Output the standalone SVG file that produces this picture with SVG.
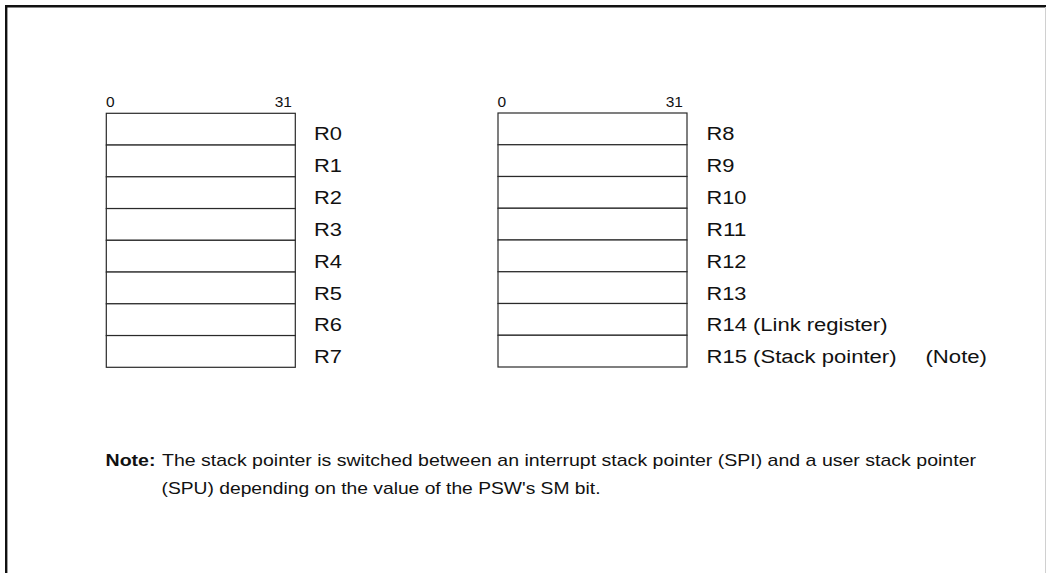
<svg xmlns="http://www.w3.org/2000/svg" width="1046" height="573" viewBox="0 0 1046 573">
<style>
.reg{fill:#fff;stroke:#2a2a2a;stroke-width:1.2}
.lbl{font-family:"Liberation Sans",Arial,sans-serif;font-size:18px;fill:#111}
.bit{font-family:"Liberation Sans",Arial,sans-serif;font-size:15.5px;fill:#111}
.note{font-family:"Liberation Sans",Arial,sans-serif;font-size:17px;fill:#111}
</style>
<rect x="0" y="0" width="1046" height="573" fill="#fff"/>
<path d="M6.2,573 V6.2 H1046" fill="none" stroke="#111" stroke-width="2.4"/>
<line x1="1045.5" y1="7" x2="1045.5" y2="573" stroke="#d0d0d0" stroke-width="1"/>

<g id="bits-left">
<text class="bit" x="106" y="106.5">0</text>
<text class="bit" x="292" y="106.5" text-anchor="end">31</text>
</g>
<g id="bits-right">
<text class="bit" x="497.5" y="106.5">0</text>
<text class="bit" x="683" y="106.5" text-anchor="end">31</text>
</g>

<g id="R0"><rect class="reg" x="106.3" y="113.3" width="189" height="31.75"/><text class="lbl" x="314" y="140" textLength="28" lengthAdjust="spacingAndGlyphs">R0</text></g>
<g id="R1"><rect class="reg" x="106.3" y="145.05" width="189" height="31.75"/><text class="lbl" x="314" y="171.9" textLength="28" lengthAdjust="spacingAndGlyphs">R1</text></g>
<g id="R2"><rect class="reg" x="106.3" y="176.8" width="189" height="31.75"/><text class="lbl" x="314" y="203.8" textLength="28" lengthAdjust="spacingAndGlyphs">R2</text></g>
<g id="R3"><rect class="reg" x="106.3" y="208.55" width="189" height="31.75"/><text class="lbl" x="314" y="235.7" textLength="28" lengthAdjust="spacingAndGlyphs">R3</text></g>
<g id="R4"><rect class="reg" x="106.3" y="240.3" width="189" height="31.75"/><text class="lbl" x="314" y="267.6" textLength="28" lengthAdjust="spacingAndGlyphs">R4</text></g>
<g id="R5"><rect class="reg" x="106.3" y="272.05" width="189" height="31.75"/><text class="lbl" x="314" y="299.5" textLength="28" lengthAdjust="spacingAndGlyphs">R5</text></g>
<g id="R6"><rect class="reg" x="106.3" y="303.8" width="189" height="31.75"/><text class="lbl" x="314" y="331.4" textLength="28" lengthAdjust="spacingAndGlyphs">R6</text></g>
<g id="R7"><rect class="reg" x="106.3" y="335.55" width="189" height="31.75"/><text class="lbl" x="314" y="363.3" textLength="28" lengthAdjust="spacingAndGlyphs">R7</text></g>

<g id="R8"><rect class="reg" x="498" y="113" width="189" height="31.75"/><text class="lbl" x="706.5" y="140" textLength="28" lengthAdjust="spacingAndGlyphs">R8</text></g>
<g id="R9"><rect class="reg" x="498" y="144.75" width="189" height="31.75"/><text class="lbl" x="706.5" y="171.9" textLength="28" lengthAdjust="spacingAndGlyphs">R9</text></g>
<g id="R10"><rect class="reg" x="498" y="176.5" width="189" height="31.75"/><text class="lbl" x="706.5" y="203.8" textLength="40" lengthAdjust="spacingAndGlyphs">R10</text></g>
<g id="R11"><rect class="reg" x="498" y="208.25" width="189" height="31.75"/><text class="lbl" x="706.5" y="235.7" textLength="40" lengthAdjust="spacingAndGlyphs">R11</text></g>
<g id="R12"><rect class="reg" x="498" y="240" width="189" height="31.75"/><text class="lbl" x="706.5" y="267.6" textLength="40" lengthAdjust="spacingAndGlyphs">R12</text></g>
<g id="R13"><rect class="reg" x="498" y="271.75" width="189" height="31.75"/><text class="lbl" x="706.5" y="299.5" textLength="40" lengthAdjust="spacingAndGlyphs">R13</text></g>
<g id="R14"><rect class="reg" x="498" y="303.5" width="189" height="31.75"/><text class="lbl" x="706.5" y="331.4" textLength="181" lengthAdjust="spacingAndGlyphs">R14 (Link register)</text></g>
<g id="R15"><rect class="reg" x="498" y="335.25" width="189" height="31.75"/><text class="lbl" x="706.5" y="363.3" textLength="190" lengthAdjust="spacingAndGlyphs">R15 (Stack pointer)</text><text class="lbl" x="925.5" y="363.3" textLength="61.5" lengthAdjust="spacingAndGlyphs">(Note)</text></g>

<g id="note">
<text class="note" x="105.5" y="466" font-weight="bold" textLength="50" lengthAdjust="spacingAndGlyphs">Note:</text>
<text class="note" x="162" y="466" textLength="814" lengthAdjust="spacingAndGlyphs">The stack pointer is switched between an interrupt stack pointer (SPI) and a user stack pointer</text>
<text class="note" x="161.5" y="494" textLength="439" lengthAdjust="spacingAndGlyphs">(SPU) depending on the value of the PSW's SM bit.</text>
</g>
</svg>
